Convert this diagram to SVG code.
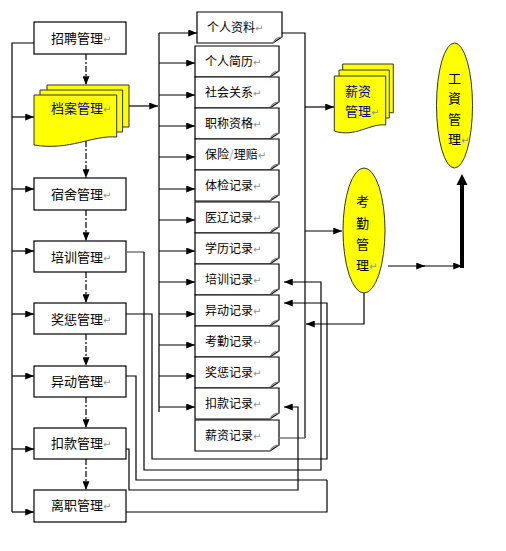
<svg xmlns="http://www.w3.org/2000/svg" xmlns:xlink="http://www.w3.org/1999/xlink" width="506" height="551" viewBox="0 0 506 551">
<style>
.box{fill:#fff;stroke:#000;stroke-width:1.2}
.rec{fill:#fff;stroke:#000;stroke-width:1.2}
.fold{fill:none;stroke:#777;stroke-width:1.2}
.doc{fill:#ffff00;stroke:#333;stroke-width:1}
.ell{fill:#ffff00;stroke:#333;stroke-width:1}
.t{font-family:"Noto Sans CJK SC","Liberation Sans",sans-serif;font-size:13px;fill:#000}
.tr{font-family:"Noto Sans CJK SC","Liberation Sans",sans-serif;font-size:12px;fill:#000}
.blue{fill:#0000a0}
.pm{fill:#909090;font-family:"DejaVu Sans",sans-serif;font-size:10px}
.ln{fill:none;stroke:#000;stroke-width:1.2}
.gl{fill:none;stroke:#777;stroke-width:1.5}
.ar{fill:none;stroke:#000;stroke-width:1.2;marker-end:url(#ah)}
.da{fill:none;stroke:#000;stroke-width:1.2;stroke-dasharray:6,2,2,2;marker-end:url(#ah)}
</style>
<defs>
<marker id="ah" viewBox="0 0 10 8" refX="10" refY="4" markerWidth="9" markerHeight="7" orient="auto" markerUnits="userSpaceOnUse"><path d="M0,0 L10,4 L0,8 Z" fill="#000"/></marker>
<path id="rec" class="rec" d="M0,0 H84 V25 L75,31 H0 Z"/>
<path id="fold" class="fold" d="M84,25 Q78,25 75,31"/>
</defs>

<!-- left column boxes -->
<g id="n-zhaopin"><rect class="box" x="34" y="22" width="92" height="32"/><text class="t" x="51" y="43">招聘管理<tspan class="pm">↵</tspan></text></g>
<g id="n-dangan">
<path class="doc" d="M47,85 H129 V127 H47 Z"/>
<path class="doc" d="M40,90 H122.6 V132 H40 Z"/>
<path class="doc" d="M34,95 H116.7 V137 C92,135 70,151 34,145 Z"/>
<text class="t blue" x="51" y="113">档案管理<tspan class="pm">↵</tspan></text></g>
<g id="n-sushe"><rect class="box" x="34" y="178" width="92" height="32"/><text class="t" x="51" y="199">宿舍管理<tspan class="pm">↵</tspan></text></g>
<g id="n-peixun"><rect class="box" x="34" y="241" width="92" height="31"/><text class="t" x="51" y="262">培训管理<tspan class="pm">↵</tspan></text></g>
<g id="n-jiangcheng"><rect class="box" x="34" y="303" width="92" height="31"/><text class="t" x="51" y="324">奖惩管理<tspan class="pm">↵</tspan></text></g>
<g id="n-yidong"><rect class="box" x="34" y="366" width="92" height="31"/><text class="t" x="51" y="386">异动管理<tspan class="pm">↵</tspan></text></g>
<g id="n-koukuan"><rect class="box" x="34" y="428" width="92" height="31"/><text class="t" x="51" y="448">扣款管理<tspan class="pm">↵</tspan></text></g>
<g id="n-lizhi"><rect class="box" x="34" y="490" width="92" height="32"/><text class="t" x="51" y="510">离职管理<tspan class="pm">↵</tspan></text></g>

<!-- records -->
<g id="r-ziliao" transform="translate(197,12)"><path class="rec" d="M0,0 H85 V25 L76,31 H0 Z"/><path class="fold" d="M85,25 Q79,25 76,31"/><text class="tr" x="10" y="20">个人资料<tspan class="pm">↵</tspan></text></g>
<g id="r-jianli" transform="translate(195,46)"><use xlink:href="#rec"/><use xlink:href="#fold"/><text class="tr" x="10" y="20">个人简历<tspan class="pm">↵</tspan></text></g>
<g id="r-shehui" transform="translate(195,77)"><use xlink:href="#rec"/><use xlink:href="#fold"/><text class="tr" x="10" y="20">社会关系<tspan class="pm">↵</tspan></text></g>
<g id="r-zhicheng" transform="translate(195,108)"><use xlink:href="#rec"/><use xlink:href="#fold"/><text class="tr" x="10" y="20">职称资格<tspan class="pm">↵</tspan></text></g>
<g id="r-baoxian" transform="translate(195,139)"><use xlink:href="#rec"/><use xlink:href="#fold"/><text class="tr" x="10" y="20">保险<tspan fill="#a0a0a0">/</tspan>理赔<tspan class="pm">↵</tspan></text></g>
<g id="r-tijian" transform="translate(195,170)"><use xlink:href="#rec"/><use xlink:href="#fold"/><text class="tr" x="10" y="20">体检记录<tspan class="pm">↵</tspan></text></g>
<g id="r-yiliao" transform="translate(195,202)"><use xlink:href="#rec"/><use xlink:href="#fold"/><text class="tr" x="10" y="20">医辽记录<tspan class="pm">↵</tspan></text></g>
<g id="r-xueli" transform="translate(195,233)"><use xlink:href="#rec"/><use xlink:href="#fold"/><text class="tr" x="10" y="20">学历记录<tspan class="pm">↵</tspan></text></g>
<g id="r-peixun" transform="translate(195,264)"><use xlink:href="#rec"/><use xlink:href="#fold"/><text class="tr" x="10" y="20">培训记录<tspan class="pm">↵</tspan></text></g>
<g id="r-yidong" transform="translate(195,295)"><use xlink:href="#rec"/><use xlink:href="#fold"/><text class="tr" x="10" y="20">异动记录<tspan class="pm">↵</tspan></text></g>
<g id="r-kaoqin" transform="translate(195,326)"><use xlink:href="#rec"/><use xlink:href="#fold"/><text class="tr" x="10" y="20">考勤记录<tspan class="pm">↵</tspan></text></g>
<g id="r-jiangcheng" transform="translate(195,357)"><use xlink:href="#rec"/><use xlink:href="#fold"/><text class="tr" x="10" y="20">奖惩记录<tspan class="pm">↵</tspan></text></g>
<g id="r-koukuan" transform="translate(195,388)"><use xlink:href="#rec"/><use xlink:href="#fold"/><text class="tr" x="10" y="20">扣款记录<tspan class="pm">↵</tspan></text></g>
<g id="r-xinzi" transform="translate(195,420)"><use xlink:href="#rec"/><use xlink:href="#fold"/><text class="tr" x="10" y="20">薪资记录<tspan class="pm">↵</tspan></text></g>

<!-- right nodes -->
<g id="n-xinzi">
<path class="doc" d="M342.7,64 H393.3 V112.7 H342.7 Z"/>
<path class="doc" d="M339,70 H389.3 V118 H339 Z"/>
<path class="doc" d="M334.3,76 H385.7 V125 C370,123 355,138 334.3,131 Z"/>
<text class="t blue" x="345" y="96">薪资</text>
<text class="t blue" x="345" y="116">管理<tspan class="pm">↵</tspan></text></g>
<g id="n-kaoqin"><ellipse class="ell" cx="364" cy="230.5" rx="21" ry="62.5"/>
<text class="t" x="356" y="206">考</text><text class="t" x="356" y="228">勤</text><text class="t" x="356" y="249">管</text><text class="t" x="356" y="270">理<tspan class="pm">↵</tspan></text></g>
<g id="n-gongzi"><ellipse class="ell" cx="454.5" cy="105.5" rx="18" ry="62.5"/>
<text class="t" x="448" y="83" font-size="15">工</text><text class="t" x="448" y="103" font-size="15">資</text><text class="t" x="448" y="124" font-size="15">管</text><text class="t" x="448" y="144" font-size="15">理<tspan class="pm">↵</tspan></text></g>

<!-- connectors -->
<g id="connectors">
<path class="da" d="M86,54 V85"/>
<path class="da" d="M86,141 V178"/>
<path class="da" d="M86,210 V241"/>
<path class="da" d="M86,272 V303"/>
<path class="da" d="M86,334 V366"/>
<path class="da" d="M86,397 V428"/>
<path class="da" d="M86,459 V490"/>
<path class="ln" d="M34,43 H12 V512"/>
<path class="ar" d="M12,117 H34"/>
<path class="ar" d="M12,189 H34"/>
<path class="ar" d="M12,251 H34"/>
<path class="ar" d="M12,314 H34"/>
<path class="ar" d="M12,376 H34"/>
<path class="ar" d="M12,449 H34"/>
<path class="ar" d="M12,512 H34"/>
<path class="ar" d="M129,106 H158"/>
<path class="ln" d="M159,33 V412"/>
<path class="ar" d="M159,33 H197"/>
<path class="ar" d="M159,63 H195"/>
<path class="ar" d="M159,95 H195"/>
<path class="ar" d="M159,126 H195"/>
<path class="ar" d="M159,157 H195"/>
<path class="ar" d="M159,189 H195"/>
<path class="ar" d="M159,220 H195"/>
<path class="ar" d="M159,251 H195"/>
<path class="ar" d="M159,282 H195"/>
<path class="ar" d="M159,314 H195"/>
<path class="ar" d="M159,345 H195"/>
<path class="ar" d="M159,376 H195"/>
<path class="ar" d="M159,407 H195"/>
<path class="ln" d="M282,33 H305 V438"/>
<path class="gl" d="M279,438 H305"/>
<path class="ar" d="M305,107 H334"/>
<path class="ar" d="M305,231 H342"/>
<path class="ar" d="M364,293 V324 H306"/>
<path class="ar" d="M388,266 H425"/>
<path class="ar" d="M420,266 H462"/>
<path fill="none" stroke="#000" stroke-width="4" d="M462,268 V183"/>
<path d="M456.5,185 L462,174 L467.5,185 Z" fill="#000"/>
<path class="gl" d="M127,252 H144"/>
<path class="ar" d="M144,252 V470 H321 V282 H284"/>
<path class="ar" d="M126,314 H152 V459 H327 V303 H284"/>
<path class="ln" d="M126,376 H136 V480 H327"/>
<path class="ar" d="M126,449 H129 V490 H298 V407 H284"/>
<path class="ln" d="M126,512 H327 V480"/>
</g>
</svg>
